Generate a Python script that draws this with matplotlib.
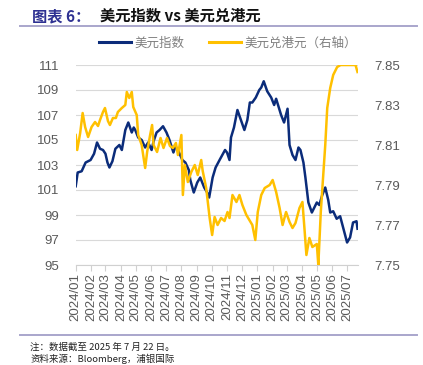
import matplotlib
matplotlib.use("Agg")
import matplotlib.pyplot as plt
import numpy as np
import pandas as pd
from matplotlib.lines import Line2D

plt.rcParams['font.family'] = ['Liberation Sans', 'Noto Sans CJK SC', 'DejaVu Sans']

# ---------------- data ----------------
dxy_dates = ["2024-01-01", "2024-01-05", "2024-01-13", "2024-01-21", "2024-01-31", "2024-02-07",
             "2024-02-13", "2024-02-19", "2024-02-25", "2024-03-01", "2024-03-05", "2024-03-09",
             "2024-03-15", "2024-03-21", "2024-03-29", "2024-04-03", "2024-04-10", "2024-04-16",
             "2024-04-23", "2024-04-27", "2024-04-30", "2024-05-06", "2024-05-13", "2024-05-20",
             "2024-05-26", "2024-06-02", "2024-06-06", "2024-06-12", "2024-06-18", "2024-06-25",
             "2024-07-02", "2024-07-08", "2024-07-16", "2024-07-20", "2024-07-25", "2024-08-03",
             "2024-08-09", "2024-08-16", "2024-08-19", "2024-08-26", "2024-09-02", "2024-09-08",
             "2024-09-16", "2024-09-22", "2024-09-26", "2024-10-03", "2024-10-09", "2024-10-17",
             "2024-10-28", "2024-11-01", "2024-11-06", "2024-11-09", "2024-11-15", "2024-11-22",
             "2024-11-29", "2024-12-06", "2024-12-12", "2024-12-17", "2024-12-22", "2024-12-29",
             "2025-01-05", "2025-01-09", "2025-01-14", "2025-01-21", "2025-01-29", "2025-02-04",
             "2025-02-08", "2025-02-18", "2025-02-24", "2025-03-03", "2025-03-07", "2025-03-13",
             "2025-03-19", "2025-03-25", "2025-03-29", "2025-04-04", "2025-04-08", "2025-04-14",
             "2025-04-21", "2025-04-26", "2025-05-01", "2025-05-06", "2025-05-12", "2025-05-18",
             "2025-05-24", "2025-05-28", "2025-06-03", "2025-06-10", "2025-06-17", "2025-06-23",
             "2025-07-01", "2025-07-07", "2025-07-13", "2025-07-20", "2025-07-22"]
dxy_values = [101.3, 102.4, 102.5, 103.2, 103.4, 103.9,
              104.8, 104.3, 104.2, 103.9, 103.2, 102.8,
              103.3, 104.3, 104.6, 104.2, 105.8, 106.4,
              105.6, 106.0, 105.8, 105.2, 105.0, 104.4,
              104.8, 104.2, 104.9, 105.6, 105.8, 106.1,
              105.6, 105.0, 104.0, 104.5, 104.2, 103.4,
              103.2, 102.6, 101.8, 100.8, 101.6, 102.0,
              101.2, 100.8, 100.4, 102.0, 102.8, 103.4,
              104.2, 104.0, 103.4, 105.2, 106.0, 107.4,
              106.6, 105.8, 106.6, 108.0, 108.0, 108.4,
              109.0, 109.2, 109.7, 108.9, 108.4, 107.8,
              108.3, 107.0, 106.4, 107.5, 104.6, 103.8,
              103.4, 104.4, 104.2, 103.2, 102.0, 100.0,
              99.2, 99.6, 100.0, 99.8, 100.6, 101.2,
              100.2, 99.2, 99.3, 98.7, 98.9, 98.0,
              96.8, 97.2, 98.4, 98.5, 97.9]

hkd_dates = ["2024-01-01", "2024-01-04", "2024-01-10", "2024-01-15", "2024-01-20", "2024-01-26",
             "2024-02-02", "2024-02-09", "2024-02-15", "2024-02-19", "2024-02-25", "2024-02-29",
             "2024-03-06", "2024-03-10", "2024-03-16", "2024-03-22", "2024-03-26", "2024-04-03",
             "2024-04-10", "2024-04-13", "2024-04-18", "2024-04-23", "2024-04-26", "2024-05-03",
             "2024-05-06", "2024-05-13", "2024-05-16", "2024-05-20", "2024-05-24", "2024-05-30",
             "2024-06-03", "2024-06-06", "2024-06-13", "2024-06-20", "2024-06-26", "2024-07-03",
             "2024-07-09", "2024-07-15", "2024-07-21", "2024-07-25", "2024-08-01", "2024-08-04",
             "2024-08-08", "2024-08-14", "2024-08-21", "2024-08-28", "2024-09-03", "2024-09-10",
             "2024-09-13", "2024-09-20", "2024-09-27", "2024-10-02", "2024-10-07", "2024-10-13",
             "2024-10-20", "2024-10-27", "2024-11-02", "2024-11-06", "2024-11-12", "2024-11-20",
             "2024-11-26", "2024-12-02", "2024-12-10", "2024-12-16", "2024-12-22", "2024-12-28",
             "2025-01-02", "2025-01-09", "2025-01-16", "2025-01-26", "2025-02-01", "2025-02-08",
             "2025-02-15", "2025-02-21", "2025-02-28", "2025-03-07", "2025-03-13", "2025-03-19",
             "2025-03-27", "2025-04-02", "2025-04-06", "2025-04-10", "2025-04-16", "2025-04-22",
             "2025-05-01", "2025-05-04", "2025-05-09", "2025-05-13", "2025-05-18", "2025-05-22",
             "2025-05-28", "2025-06-03", "2025-06-11", "2025-06-18", "2025-06-28", "2025-07-08",
             "2025-07-18", "2025-07-22"]
hkd_values = [7.8150, 7.8075, 7.8160, 7.8260, 7.8190, 7.8140,
              7.8190, 7.8215, 7.8195, 7.8225, 7.8265, 7.8285,
              7.8220, 7.8200, 7.8235, 7.8235, 7.8265, 7.8285,
              7.8300, 7.8365, 7.8335, 7.8365, 7.8290, 7.8250,
              7.8150, 7.8100, 7.8050, 7.7985, 7.8065, 7.8150,
              7.8200, 7.8100, 7.8065, 7.8135, 7.8085, 7.8135,
              7.8095, 7.8085, 7.8110, 7.8050, 7.8150, 7.7850,
              7.8000, 7.7915, 7.7965, 7.8000, 7.7950, 7.8025,
              7.7970, 7.7885, 7.7735, 7.7650, 7.7740, 7.7700,
              7.7735, 7.7720, 7.7765, 7.7735, 7.7850, 7.7815,
              7.7850, 7.7800, 7.7750, 7.7725, 7.7700, 7.7625,
              7.7765, 7.7850, 7.7885, 7.7900, 7.7925, 7.7865,
              7.7785, 7.7700, 7.7765, 7.7715, 7.7685, 7.7710,
              7.7785, 7.7815, 7.7685, 7.7550, 7.7635, 7.7590,
              7.7605, 7.7500, 7.7765, 7.7915, 7.8100, 7.8285,
              7.8385, 7.8450, 7.8490, 7.8500, 7.8500, 7.8500,
              7.8500, 7.8465]

left_ticks = [95, 97, 99, 101, 103, 105, 107, 109, 111]
right_ticks = [7.75, 7.77, 7.79, 7.81, 7.83, 7.85]
month_ticks = pd.date_range("2024-01-01", "2025-07-01", freq="MS")
month_labels = [d.strftime("%Y/%m") for d in month_ticks]

label_dxy = "美元指数"
label_hkd = "美元兑港元（右轴）"
title_a = "图表 6："
title_b = "美元指数 vs 美元兑港元"
note_text = "注：数据截至 2025 年 7 月 22 日。"
source_text = "资料来源：Bloomberg，浦银国际"

# ---------------- figure ----------------
W, H = 423, 365
fig = plt.figure(figsize=(W / 100, H / 100), dpi=100)
fig.patch.set_facecolor("white")

def fx(px):
    return px / W

def fy(py):
    return 1 - py / H

ax = fig.add_axes([fx(75.7), fy(265), fx(358) - fx(75.7), fy(65) - fy(265)])
ax2 = ax.twinx()

blue = "#0B2C7A"
yellow = "#FFC000"
tick_color = "#595959"

d1 = pd.to_datetime(dxy_dates)
d2 = pd.to_datetime(hkd_dates)
ax.plot(d1, dxy_values, color=blue, lw=1.8, solid_joinstyle="round", zorder=3)
ax2.plot(d2, hkd_values, color=yellow, lw=1.8, solid_joinstyle="round", zorder=3)

ax.set_ylim(95, 111)
ax.set_yticks(left_ticks)
ax.set_yticklabels([str(v) for v in left_ticks])
ax2.set_ylim(7.75, 7.85)
ax2.set_yticks(right_ticks)
ax2.set_yticklabels([f"{v:.2f}" for v in right_ticks])

ax.set_xlim(pd.Timestamp("2024-01-01"), pd.Timestamp("2025-07-23"))
ax.set_xticks(month_ticks)
ax.set_xticklabels(month_labels, rotation=90, fontsize=9.5, color=tick_color)

ax.grid(axis="y", color="#D9D9D9", lw=0.8)
ax.set_axisbelow(True)
for a in (ax, ax2):
    for s in ("top", "left", "right", "bottom"):
        a.spines[s].set_visible(False)
ax.spines["bottom"].set_visible(True)
ax.spines["bottom"].set_color("#D0D0D0")
ax.spines["bottom"].set_linewidth(0.8)

ax.tick_params(axis="y", length=0, labelsize=9.5, labelcolor=tick_color, pad=12)
ax2.tick_params(axis="y", length=0, labelsize=9.5, labelcolor=tick_color, pad=12)
ax.tick_params(axis="x", length=4, color="#D0D0D0", width=0.8, pad=2)

# legend
handles = [Line2D([0], [0], color=blue, lw=2.2), Line2D([0], [0], color=yellow, lw=2.2)]
fig.legend(handles, [label_dxy, label_hkd], loc="center", bbox_to_anchor=(fx(228), fy(43)),
           ncol=2, frameon=False, handlelength=2.6, handletextpad=0.3, columnspacing=1.9,
           prop={"family": ["Noto Sans CJK SC"], "size": 9}, labelcolor="#7F7F7F")

# title
fig.text(fx(32), fy(16), title_a, fontsize=11, fontweight="bold", color="#2E3192",
         family=["Noto Sans CJK SC", "DejaVu Sans"], va="center", ha="left")
fig.text(fx(100), fy(16), title_b, fontsize=11, fontweight="bold", color="#111111",
         family=["Noto Sans CJK SC", "DejaVu Sans"], va="center", ha="left")

line_col = "#A9A6CC"
fig.add_artist(Line2D([fx(20), fx(417)], [fy(26), fy(26)], color=line_col, lw=1.4))
fig.add_artist(Line2D([fx(20), fx(417)], [fy(334.5), fy(334.5)], color=line_col, lw=1.4))

fig.text(fx(30), fy(347), note_text, fontsize=6.8, color="#222222",
         family=["Noto Sans CJK SC", "DejaVu Sans"], va="center", ha="left")
fig.text(fx(30), fy(359), source_text, fontsize=6.8, color="#222222",
         family=["Noto Sans CJK SC", "DejaVu Sans"], va="center", ha="left")

fig.savefig("out.png", dpi=100, facecolor="white")
